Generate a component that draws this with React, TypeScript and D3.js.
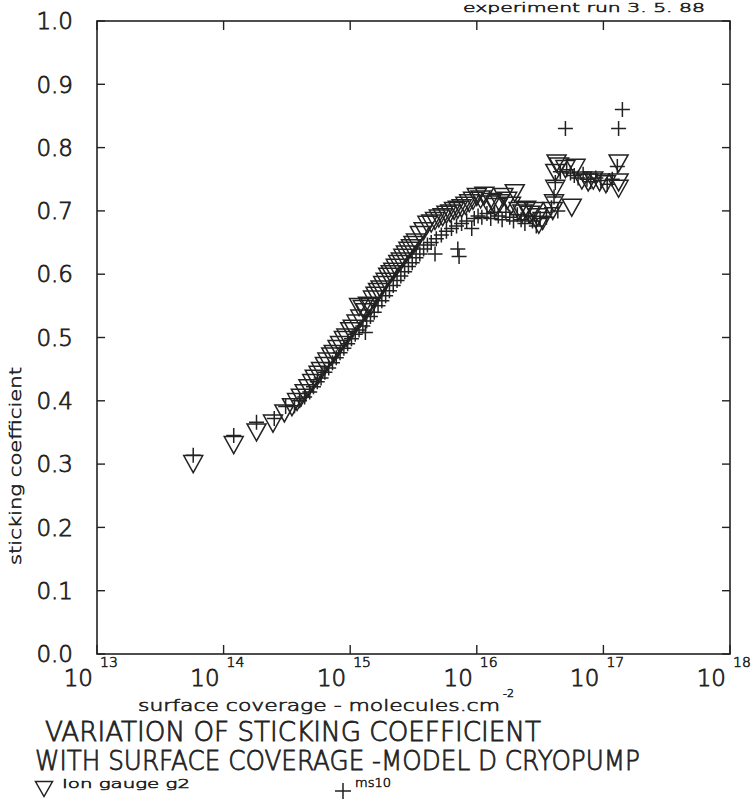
import React from 'react';
import * as d3 from 'd3';

// ion gauge g2 : [log10 coverage, sticking coefficient]
const ionGauge: [number, number][] = [
  [13.76, 0.300], [14.08, 0.330], [14.26, 0.350], [14.39, 0.364], [14.48, 0.380],
  [14.54, 0.390], [14.58, 0.398], [14.61, 0.405], [14.64, 0.412], [14.67, 0.420],
  [14.70, 0.428], [14.72, 0.435], [14.75, 0.441], [14.77, 0.447], [14.80, 0.455],
  [14.82, 0.462], [14.85, 0.470], [14.87, 0.474], [14.90, 0.482], [14.92, 0.488],
  [14.95, 0.496], [14.97, 0.500], [15.00, 0.510], [15.02, 0.514], [15.05, 0.522],
  [15.07, 0.548], [15.08, 0.530], [15.10, 0.545], [15.12, 0.540], [15.14, 0.550],
  [15.16, 0.548], [15.18, 0.560], [15.20, 0.566], [15.22, 0.572], [15.24, 0.576],
  [15.26, 0.583], [15.28, 0.588], [15.30, 0.596], [15.32, 0.600], [15.34, 0.604],
  [15.36, 0.610], [15.38, 0.616], [15.40, 0.620], [15.42, 0.626], [15.44, 0.631],
  [15.46, 0.637], [15.48, 0.641], [15.50, 0.646], [15.52, 0.650], [15.55, 0.662],
  [15.58, 0.668], [15.61, 0.678], [15.64, 0.680], [15.67, 0.684], [15.70, 0.688],
  [15.73, 0.690], [15.76, 0.694], [15.79, 0.696], [15.82, 0.700], [15.85, 0.702],
  [15.88, 0.704], [15.91, 0.708], [15.94, 0.712], [15.97, 0.716], [16.00, 0.722],
  [16.03, 0.718], [16.06, 0.724], [16.09, 0.710], [16.12, 0.714], [16.15, 0.706],
  [16.18, 0.712], [16.21, 0.722], [16.24, 0.716], [16.27, 0.708], [16.30, 0.728],
  [16.33, 0.700], [16.36, 0.696], [16.39, 0.702], [16.42, 0.694], [16.45, 0.700],
  [16.48, 0.690], [16.49, 0.678], [16.52, 0.684], [16.60, 0.700], [16.61, 0.712],
  [16.62, 0.735], [16.62, 0.760], [16.63, 0.775], [16.65, 0.770], [16.70, 0.766],
  [16.75, 0.705], [16.78, 0.768], [16.83, 0.748], [16.88, 0.745], [16.92, 0.748],
  [16.97, 0.745], [17.02, 0.742], [17.12, 0.775], [17.12, 0.745], [17.12, 0.735],
];

// ms10
const ms10: [number, number][] = [
  [13.76, 0.314], [14.08, 0.345], [14.26, 0.366], [14.40, 0.372], [14.49, 0.391],
  [14.56, 0.392], [14.60, 0.400], [14.64, 0.406], [14.68, 0.414], [14.71, 0.422],
  [14.74, 0.430], [14.77, 0.436], [14.80, 0.445], [14.83, 0.452], [14.86, 0.460],
  [14.89, 0.468], [14.92, 0.476], [14.95, 0.483], [14.98, 0.490], [15.01, 0.498],
  [15.04, 0.505], [15.07, 0.512], [15.10, 0.518], [15.12, 0.508], [15.13, 0.526],
  [15.16, 0.533], [15.19, 0.540], [15.22, 0.550], [15.25, 0.558], [15.28, 0.566],
  [15.31, 0.574], [15.34, 0.582], [15.37, 0.590], [15.40, 0.597], [15.43, 0.604],
  [15.46, 0.612], [15.49, 0.618], [15.52, 0.626], [15.55, 0.632], [15.58, 0.640],
  [15.61, 0.646], [15.64, 0.650], [15.67, 0.632], [15.68, 0.656], [15.72, 0.662],
  [15.76, 0.668], [15.80, 0.672], [15.84, 0.676], [15.85, 0.640], [15.86, 0.628],
  [15.88, 0.680], [15.92, 0.684], [15.96, 0.672], [15.98, 0.688], [16.01, 0.692],
  [16.04, 0.690], [16.08, 0.696], [16.11, 0.688], [16.14, 0.698], [16.17, 0.692],
  [16.20, 0.686], [16.23, 0.698], [16.26, 0.690], [16.29, 0.684], [16.32, 0.694],
  [16.35, 0.686], [16.38, 0.680], [16.41, 0.692], [16.44, 0.684], [16.47, 0.676],
  [16.50, 0.688], [16.55, 0.690], [16.59, 0.705], [16.61, 0.722], [16.62, 0.745],
  [16.64, 0.700], [16.66, 0.762], [16.70, 0.830], [16.71, 0.765], [16.74, 0.760],
  [16.77, 0.756], [16.80, 0.752], [16.84, 0.758], [16.87, 0.750], [16.90, 0.746],
  [16.94, 0.752], [16.98, 0.748], [17.03, 0.742], [17.07, 0.750], [17.11, 0.770],
  [17.12, 0.830], [17.15, 0.860],
];

const xExponents = [13, 14, 15, 16, 17, 18];
const yTicks = [0, 0.1, 0.2, 0.3, 0.4, 0.5, 0.6, 0.7, 0.8, 0.9, 1.0];

const W = 752;
const H = 801;
const plot = { left: 97, right: 730, top: 21, bottom: 654 };
const ink = '#222';
const font = '"DejaVu Sans", sans-serif';

// thin plotter-like lettering: light face with a hairline outline
const pen = { fontFamily: font, fontWeight: 300, fill: ink, stroke: ink, strokeWidth: 0.6 };

const tri = (cx: number, cy: number, w = 19, h = 17) =>
  `M${cx - w / 2},${cy - h / 2}L${cx + w / 2},${cy - h / 2}L${cx},${cy + h / 2}Z`;
const plus = (cx: number, cy: number, s = 7.5) =>
  `M${cx - s},${cy}H${cx + s}M${cx},${cy - s}V${cy + s}`;

export default function App() {
  const x = d3.scaleLog().domain([1e13, 1e18]).range([plot.left, plot.right]);
  const y = d3.scaleLinear().domain([0, 1]).range([plot.bottom, plot.top]);
  const fmt = d3.format('.1f');

  return (
    <svg width={W} height={H} style={{ position: 'absolute', left: 0, top: 0, background: '#fff' }}>
      <text x={463} y={12} {...pen} fontSize={13} textLength={242} lengthAdjust="spacingAndGlyphs">
        experiment run 3. 5. 88
      </text>

      {/* frame */}
      <rect x={plot.left} y={plot.top} width={plot.right - plot.left} height={plot.bottom - plot.top}
        fill="none" stroke={ink} strokeWidth={1.6} />

      {/* y ticks */}
      {yTicks.map(t => (
        <g key={'y' + t}>
          <line x1={plot.left} x2={plot.left + 8} y1={y(t)} y2={y(t)} stroke={ink} strokeWidth={1.4} />
          <line x1={plot.right} x2={plot.right - 8} y1={y(t)} y2={y(t)} stroke={ink} strokeWidth={1.4} />
          <text x={73} y={y(t)} dy="0.36em" textAnchor="end" {...pen} strokeWidth={0.8} fontSize={23}>
            {fmt(t)}
          </text>
        </g>
      ))}

      {/* x ticks */}
      {xExponents.map(e => (
        <g key={'x' + e}>
          <line x1={x(10 ** e)} x2={x(10 ** e)} y1={plot.bottom} y2={plot.bottom - 9} stroke={ink} strokeWidth={1.4} />
          <line x1={x(10 ** e)} x2={x(10 ** e)} y1={plot.top} y2={plot.top + 9} stroke={ink} strokeWidth={1.4} />
          <text x={x(10 ** e) - 4} y={686} textAnchor="end" {...pen} strokeWidth={0.8} fontSize={23}>10</text>
          <text x={x(10 ** e) + 3} y={667} {...pen} fontSize={14}>{e}</text>
        </g>
      ))}

      {/* axis titles */}
      <text transform="translate(21,466) rotate(-90)" textAnchor="middle" {...pen} fontSize={15}
        textLength={198} lengthAdjust="spacingAndGlyphs">
        sticking coefficient
      </text>
      <text x={138} y={711} {...pen} fontSize={15} textLength={362} lengthAdjust="spacingAndGlyphs">
        surface coverage  - molecules.cm
      </text>
      <text x={503} y={697} {...pen} fontSize={11}>-2</text>

      {/* markers */}
      <g fill="none" stroke={ink} strokeWidth={1.5}>
        {ionGauge.map(([lx, v], i) => (
          <path key={'t' + i} d={tri(x(10 ** lx), y(v))} />
        ))}
        {ms10.map(([lx, v], i) => (
          <path key={'p' + i} d={plus(x(10 ** lx), y(v))} />
        ))}
      </g>

      {/* title */}
      <text x={45} y={741} {...pen} strokeWidth={0.8} fontSize={27} textLength={496} lengthAdjust="spacingAndGlyphs">
        VARIATION OF STICKING COEFFICIENT
      </text>
      <text x={35} y={770} {...pen} strokeWidth={0.8} fontSize={27} textLength={605} lengthAdjust="spacingAndGlyphs">
        WITH SURFACE COVERAGE -MODEL D CRYOPUMP
      </text>

      {/* legend */}
      <path d={tri(44, 789, 17, 15)} fill="none" stroke={ink} strokeWidth={1.5} />
      <text x={62} y={788} {...pen} fontSize={13} textLength={128} lengthAdjust="spacingAndGlyphs">
        Ion gauge g2
      </text>
      <path d={plus(343, 791, 8)} fill="none" stroke={ink} strokeWidth={1.5} />
      <text x={355} y={787} {...pen} fontSize={13} textLength={36} lengthAdjust="spacingAndGlyphs">
        ms10
      </text>
    </svg>
  );
}
